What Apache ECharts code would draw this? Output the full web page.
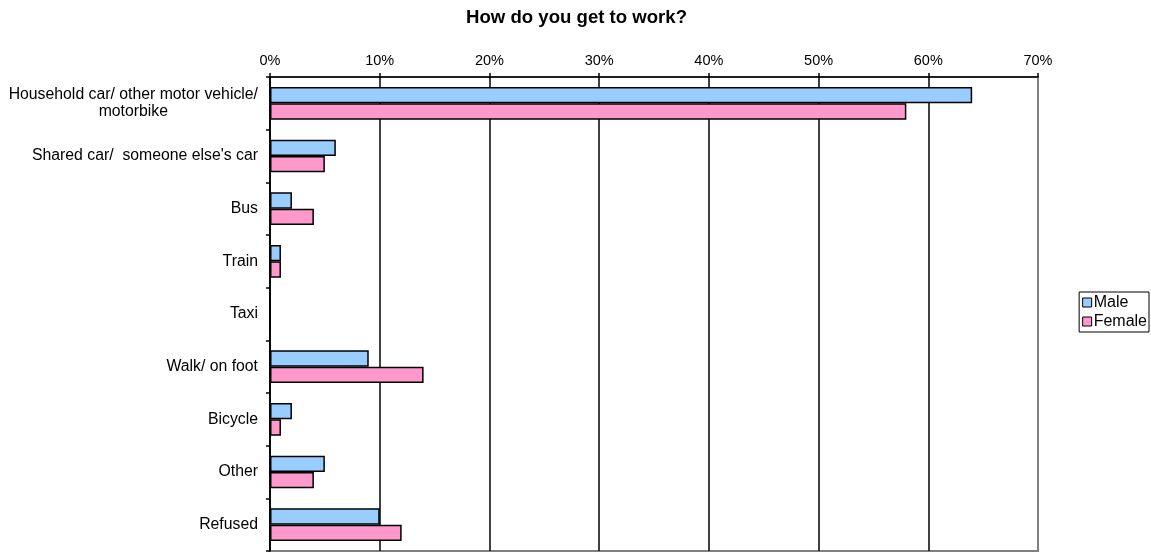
<!DOCTYPE html>
<html>
<head>
<meta charset="utf-8">
<style>
  html, body { margin: 0; padding: 0; background: #fff; }
  #chart { width: 1151px; height: 552px; }
</style>
<script src="https://cdn.jsdelivr.net/npm/echarts@6/dist/echarts.min.js"></script>
</head>
<body>
<div id="chart"></div>
<script>
// Modes of travel to work, share of respondents (%)
const categories = [
  'Household car/ other motor vehicle/\nmotorbike',
  "Shared car/  someone else's car",
  'Bus',
  'Train',
  'Taxi',
  'Walk/ on foot',
  'Bicycle',
  'Other',
  'Refused'
];
const maleValues   = [64, 6, 2, 1, 0, 9, 2, 5, 10];
const femaleValues = [58, 5, 4, 1, 0, 14, 1, 4, 12];
const seriesNames  = ['Male', 'Female'];
const percentTicks = [0, 10, 20, 30, 40, 50, 60, 70];

const FONT = '"Liberation Sans", Arial, sans-serif';

const chart = echarts.init(document.getElementById('chart'), null, { renderer: 'canvas' });

chart.setOption({
  backgroundColor: '#ffffff',
  animation: false,
  title: {
    text: 'How do you get to work?',
    left: 461,
    top: 3,
    textStyle: { fontFamily: FONT, fontSize: 18.6, fontWeight: 'bold', color: '#000' }
  },
  legend: {
    orient: 'vertical',
    right: 2,
    top: 292,
    data: seriesNames,
    itemWidth: 9,
    itemHeight: 9,
    itemGap: 2,
    padding: [2, 2, 2, 3],
    borderColor: '#000',
    borderWidth: 1,
    icon: 'rect',
    itemStyle: { borderColor: '#000', borderWidth: 1 },
    textStyle: { fontFamily: FONT, fontSize: 16, lineHeight: 17, color: '#000', padding: [0, 0, 0, -3] }
  },
  grid: {
    left: 270,
    right: 113,
    top: 77,
    bottom: 1,
    show: true,
    borderColor: '#808080',
    borderWidth: 2,
    containLabel: false
  },
  xAxis: {
    type: 'value',
    position: 'top',
    min: percentTicks[0],
    max: percentTicks[percentTicks.length - 1],
    interval: 10,
    axisLine: { show: true, lineStyle: { color: '#000', width: 1.5 } },
    axisTick: { show: true, inside: false, length: 4, lineStyle: { color: '#000', width: 1.5 } },
    axisLabel: {
      margin: 9,
      fontFamily: FONT,
      fontSize: 14.5,
      color: '#000',
      formatter: v => v + '%'
    },
    splitLine: {
      show: true,
      lineStyle: {
        width: 1.5,
        color: percentTicks.map((t, i) => i === percentTicks.length - 1 ? '#808080' : '#000')
      }
    }
  },
  yAxis: {
    type: 'category',
    inverse: true,
    data: categories,
    axisLine: { show: true, lineStyle: { color: '#000', width: 1.5 } },
    axisTick: { show: true, inside: false, length: 4, lineStyle: { color: '#000', width: 1.5 } },
    axisLabel: {
      margin: 12,
      color: '#000',
      fontFamily: FONT,
      fontSize: 15.8,
      lineHeight: 17,
      formatter: v => v.split('\n').map(line => '{c|' + line + '}').join('\n'),
      rich: {
        c: { align: 'center', fontFamily: FONT, fontSize: 15.8, lineHeight: 17, color: '#000' }
      }
    },
    splitLine: { show: false }
  },
  series: [
    {
      name: seriesNames[0],
      type: 'bar',
      data: maleValues,
      barGap: '0%',
      barCategoryGap: '38%',
      itemStyle: { color: '#99CCFF', borderColor: '#000', borderWidth: 1.5 }
    },
    {
      name: seriesNames[1],
      type: 'bar',
      data: femaleValues,
      barGap: '0%',
      barCategoryGap: '38%',
      itemStyle: { color: '#FF99CC', borderColor: '#000', borderWidth: 1.5 }
    }
  ]
});
</script>
</body>
</html>
